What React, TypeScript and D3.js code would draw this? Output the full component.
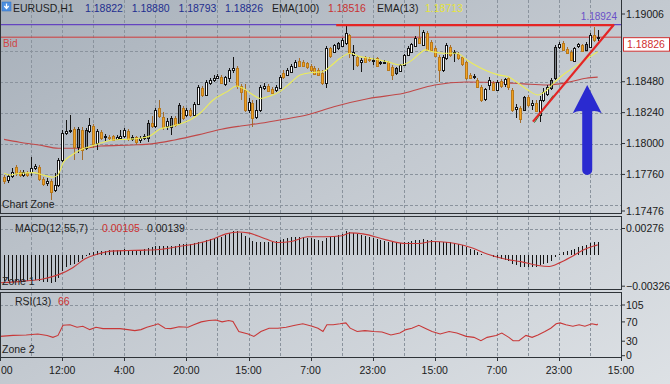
import React from "react";
import * as d3 from "d3";

const W = 670;
const H = 384;

// ---------- candle data (EURUSD H1) ----------
const opens = [1.17740,1.17717,1.17748,1.17818,1.17779,1.17756,1.17772,1.17779,1.17810,1.17818,
1.17725,1.17694,1.17709,1.17639,1.17678,1.17873,1.18082,1.18098,1.18113,1.17973,
1.18105,1.17966,1.18098,1.18136,1.18004,1.18090,1.18051,1.18051,1.18059,1.18035,
1.18043,1.18059,1.18098,1.18035,1.18051,1.18028,1.18043,1.18043,1.18160,1.18136,
1.18276,1.18206,1.18136,1.18129,1.18199,1.18160,1.18276,1.18222,1.18261,1.18222,
1.18307,1.18432,1.18377,1.18470,1.18494,1.18509,1.18517,1.18463,1.18509,1.18571,
1.18587,1.18447,1.18416,1.18261,1.18315,1.18206,1.18261,1.18432,1.18447,1.18424,
1.18416,1.18432,1.18548,1.18533,1.18556,1.18595,1.18641,1.18633,1.18626,1.18602,
1.18587,1.18571,1.18548,1.18470,1.18742,1.18711,1.18742,1.18758,1.18781,1.18843,
1.18688,1.18672,1.18633,1.18672,1.18657,1.18641,1.18665,1.18626,1.18626,1.18633,
1.18595,1.18548,1.18564,1.18610,1.18688,1.18711,1.18758,1.18820,1.18766,1.18859,
1.18789,1.18742,1.18672,1.18571,1.18665,1.18750,1.18703,1.18696,1.18672,1.18633,
1.18533,1.18517,1.18494,1.18439,1.18346,1.18455,1.18470,1.18416,1.18486,1.18463,
1.18509,1.18416,1.18268,1.18276,1.18261,1.18362,1.18299,1.18315,1.18222,1.18338,
1.18385,1.18432,1.18509,1.18750,1.18781,1.18734,1.18711,1.18641,1.18758,1.18766,
1.18727,1.18750,1.18843,1.18822];
const highs = [1.17756,1.17764,1.17810,1.17834,1.17795,1.17795,1.17787,1.17896,1.17841,1.17834,
1.17740,1.17733,1.17725,1.17772,1.17888,1.18105,1.18183,1.18222,1.18129,1.18129,
1.18129,1.18121,1.18199,1.18152,1.18113,1.18105,1.18074,1.18067,1.18067,1.18067,
1.18105,1.18121,1.18113,1.18067,1.18059,1.18059,1.18074,1.18183,1.18214,1.18276,
1.18338,1.18245,1.18199,1.18214,1.18214,1.18315,1.18292,1.18276,1.18276,1.18323,
1.18455,1.18447,1.18494,1.18509,1.18533,1.18540,1.18533,1.18525,1.18587,1.18672,
1.18602,1.18463,1.18463,1.18354,1.18338,1.18338,1.18455,1.18470,1.18463,1.18439,
1.18455,1.18533,1.18571,1.18587,1.18618,1.18649,1.18665,1.18649,1.18633,1.18618,
1.18602,1.18587,1.18571,1.18758,1.18750,1.18773,1.18789,1.18820,1.18913,1.18851,
1.18766,1.18688,1.18665,1.18680,1.18672,1.18665,1.18672,1.18641,1.18649,1.18641,
1.18610,1.18595,1.18618,1.18696,1.18758,1.18781,1.18835,1.18924,1.18882,1.18874,
1.18804,1.18758,1.18688,1.18688,1.18781,1.18766,1.18727,1.18711,1.18680,1.18641,
1.18548,1.18540,1.18509,1.18455,1.18432,1.18517,1.18486,1.18494,1.18501,1.18509,
1.18517,1.18432,1.18307,1.18292,1.18369,1.18377,1.18338,1.18338,1.18369,1.18432,
1.18455,1.18509,1.18766,1.18789,1.18797,1.18750,1.18727,1.18750,1.18781,1.18773,
1.18789,1.18859,1.18905,1.18880];
const lows = [1.17686,1.17694,1.17733,1.17748,1.17740,1.17740,1.17740,1.17748,1.17795,1.17709,
1.17670,1.17670,1.17561,1.17624,1.17663,1.17857,1.18067,1.18082,1.17873,1.17927,
1.17873,1.17950,1.18082,1.17966,1.17950,1.18028,1.18020,1.18028,1.18020,1.18028,
1.18035,1.18043,1.18020,1.18020,1.17989,1.18004,1.18028,1.18012,1.18121,1.18121,
1.18199,1.18105,1.18105,1.18067,1.18129,1.18152,1.18183,1.18206,1.18206,1.18214,
1.18299,1.18362,1.18369,1.18455,1.18478,1.18501,1.18463,1.18447,1.18478,1.18548,
1.18424,1.18338,1.18245,1.18237,1.18129,1.18191,1.18245,1.18416,1.18400,1.18385,
1.18400,1.18424,1.18501,1.18525,1.18548,1.18587,1.18595,1.18595,1.18579,1.18556,
1.18533,1.18525,1.18455,1.18432,1.18665,1.18703,1.18727,1.18750,1.18766,1.18665,
1.18571,1.18595,1.18556,1.18626,1.18633,1.18610,1.18595,1.18610,1.18618,1.18564,
1.18494,1.18533,1.18556,1.18602,1.18680,1.18703,1.18750,1.18773,1.18758,1.18719,
1.18711,1.18672,1.18478,1.18556,1.18649,1.18672,1.18633,1.18649,1.18602,1.18494,
1.18501,1.18501,1.18432,1.18323,1.18330,1.18416,1.18408,1.18408,1.18432,1.18439,
1.18416,1.18245,1.18199,1.18160,1.18261,1.18284,1.18261,1.18245,1.18167,1.18323,
1.18369,1.18416,1.18494,1.18734,1.18719,1.18696,1.18641,1.18633,1.18742,1.18711,
1.18719,1.18742,1.18789,1.18793];
const closes = [1.17709,1.17748,1.17779,1.17772,1.17756,1.17779,1.17756,1.17810,1.17826,1.17725,
1.17686,1.17709,1.17624,1.17678,1.17873,1.18082,1.18098,1.18105,1.17973,1.18113,
1.17950,1.18105,1.18144,1.17997,1.18098,1.18043,1.18059,1.18043,1.18028,1.18051,
1.18059,1.18105,1.18035,1.18051,1.18012,1.18043,1.18059,1.18160,1.18136,1.18261,
1.18214,1.18129,1.18175,1.18199,1.18144,1.18299,1.18199,1.18261,1.18222,1.18307,
1.18439,1.18377,1.18478,1.18494,1.18509,1.18525,1.18470,1.18517,1.18571,1.18587,
1.18447,1.18400,1.18261,1.18323,1.18199,1.18261,1.18439,1.18447,1.18408,1.18393,
1.18439,1.18517,1.18517,1.18571,1.18602,1.18633,1.18602,1.18602,1.18595,1.18571,
1.18540,1.18533,1.18470,1.18742,1.18680,1.18766,1.18781,1.18804,1.18859,1.18703,
1.18711,1.18610,1.18649,1.18633,1.18649,1.18649,1.18602,1.18633,1.18633,1.18571,
1.18533,1.18587,1.18610,1.18688,1.18742,1.18773,1.18820,1.18781,1.18866,1.18727,
1.18727,1.18680,1.18571,1.18672,1.18766,1.18688,1.18711,1.18665,1.18618,1.18509,
1.18509,1.18525,1.18439,1.18338,1.18424,1.18494,1.18416,1.18478,1.18447,1.18501,
1.18439,1.18261,1.18284,1.18191,1.18362,1.18299,1.18315,1.18253,1.18338,1.18400,
1.18439,1.18494,1.18750,1.18773,1.18727,1.18703,1.18649,1.18742,1.18773,1.18719,
1.18773,1.18843,1.18804,1.18826];
// bullish candles drawn with a grey body
const greyBull = [19, 21, 33, 37, 43, 45, 86, 101, 134, 141, 142, 150];

// ---------- indicator data ----------
const ema100: [number, number][] = [[0,1.18032],[4,1.18010],[9,1.17989],[14,1.17963],[20,1.17963],[25,1.17981],
[33,1.17989],[38,1.17997],[44,1.18028],[50,1.18067],[56,1.18111],[61,1.18136],[66,1.18157],[72,1.18188],
[78,1.18222],[85,1.18286],[94,1.18350],[103,1.18390],[111,1.18455],[119,1.18478],[128,1.18474],[134,1.18463],
[140,1.18455],[145,1.18473],[150,1.18507],[153,1.18516]];
const ema13: [number, number][] = [[0,1.17769],[1.5,1.17756],[4.1,1.17769],[7.5,1.17774],[10,1.17756],[12.6,1.17738],
[13.9,1.17756],[15.2,1.17849],[17.5,1.17911],[19.6,1.17950],[22.1,1.17976],[24.7,1.18002],[28.1,1.18028],
[31.7,1.18033],[35,1.18041],[37.6,1.18059],[40.2,1.18113],[42.8,1.18131],[45.3,1.18152],[47.9,1.18183],
[50.5,1.18235],[53.9,1.18338],[57.5,1.18403],[60,1.18447],[61.6,1.18429],[64.2,1.18377],[66,1.18350],
[68.5,1.18369],[71.1,1.18403],[73.7,1.18468],[76.3,1.18533],[79.4,1.18552],[82.2,1.18558],[84,1.18597],
[86.6,1.18662],[89.2,1.18701],[91.7,1.18675],[94.3,1.18662],[98.7,1.18636],[102,1.18610],[104.6,1.18636],
[107.2,1.18701],[108.5,1.18727],[110.5,1.18713],[113.1,1.18701],[116.7,1.18701],[119.3,1.18649],[121.4,1.18610],
[123.9,1.18571],[127.3,1.18533],[129.9,1.18519],[132.5,1.18468],[135,1.18416],[137.6,1.18377],[139.4,1.18403],
[142,1.18480],[144.6,1.18546],[147.2,1.18597],[149.7,1.18649],[153,1.18713]];

const macdHist = [-0.0027,-0.0027,-0.0028,-0.0027,-0.0027,-0.0028,-0.0027,-0.0026,-0.0026,-0.0027,
-0.0028,-0.0028,-0.0029,-0.0028,-0.0024,-0.0017,-0.0013,-0.0011,-0.0009,-0.0007,
-0.0004,-0.0001,0.0002,0.0003,0.0004,0.0004,0.0004,0.0005,0.0005,0.0005,
0.0005,0.0006,0.0005,0.0005,0.0005,0.0005,0.0006,0.0007,0.0008,0.0009,
0.0009,0.0009,0.0009,0.0009,0.0009,0.0011,0.0011,0.0011,0.0011,0.0012,
0.0014,0.0014,0.0016,0.0017,0.0018,0.0019,0.0019,0.0021,0.0023,0.0025,
0.0025,0.0023,0.0020,0.0018,0.0015,0.0013,0.0014,0.0014,0.0014,0.0014,
0.0015,0.0016,0.0017,0.0018,0.0019,0.0019,0.0019,0.0019,0.0018,0.0018,
0.0017,0.0016,0.0015,0.0018,0.0019,0.0020,0.0021,0.0022,0.0025,0.0024,
0.0023,0.0022,0.0021,0.0020,0.0019,0.0018,0.0017,0.0016,0.0015,0.0014,
0.0013,0.0012,0.0012,0.0013,0.0014,0.0015,0.0016,0.0016,0.0017,0.0016,
0.0016,0.0015,0.0013,0.0013,0.0014,0.0013,0.0012,0.0011,0.0010,0.0008,
0.0006,0.0005,0.0003,0.0001,0.0000,0.0000,-0.0002,-0.0003,-0.0004,-0.0005,
-0.0006,-0.0009,-0.0011,-0.0013,-0.0013,-0.0013,-0.0013,-0.0013,-0.0011,-0.0009,
-0.0008,-0.0006,-0.0002,0.0001,0.0003,0.0004,0.0005,0.0006,0.0008,0.0009,
0.0010,0.0012,0.0013,0.00139];
const macdSignal: [number, number][] = [[-1,-0.0029],[5.7,-0.0027],[10,-0.0025],[14.4,-0.0020],[17.8,-0.0013],
[20.9,-0.0004],[24.2,0.0001],[27.6,0.0004],[31.9,0.00046],[36.3,0.0005],[40.7,0.0006],[45.3,0.0009],
[49.7,0.0012],[54.1,0.0017],[57.2,0.0022],[60.6,0.0024],[62.9,0.0023],[67.3,0.0017],[70.6,0.0013],
[74,0.0014],[78.3,0.0019],[82.7,0.0019],[87.1,0.0020],[89.2,0.0023],[92.5,0.0022],[98.2,0.0016],
[103.6,0.0012],[107,0.0012],[110.3,0.0014],[114.7,0.0013],[120.1,0.0008],[124.5,0.0001],[128.8,-0.0004],
[133.2,-0.0007],[137.6,-0.0011],[140.5,-0.0012],[143.3,-0.0008],[146.6,-0.0001],[149.7,0.0006],
[152.6,0.0010],[153,0.00105]];

const rsi: [number, number][] = [[-1,40],[2.3,42],[5.7,43],[8.7,45],[11.1,42],[12.6,38],[13.9,42],[15.2,63],[17,64],
[18.8,59],[20.3,61],[22.1,54],[23.7,59],[25.5,56],[27.6,56],[29.9,56],[31.9,54],[33.7,52],[35.3,54],[36.8,59],
[38.6,63],[39.7,66],[41.5,57],[43,56],[45.1,60],[47.4,59],[48.9,64],[50.8,70],[52.8,73],[54.6,74],[56.2,70],
[57.9,73],[59,71],[60.5,50],[62.9,45],[64.4,40],[66.2,50],[68.3,57],[70.6,57],[72.7,59],[75,63],[77,66],
[79.4,61],[80.9,57],[82.2,50],[83.2,64],[84.8,64],[86.6,66],[88.1,68],[89.2,57],[91,50],[93,52],[95.3,50],
[97.4,49],[99.7,43],[102,47],[103.6,54],[105.1,57],[106.9,63],[108.5,57],[110.3,50],[112.4,45],[114.7,50],
[116.7,47],[119.1,40],[121.1,38],[122.9,31],[124.5,38],[126.8,42],[128.3,47],[130.1,38],[131.2,31],[132.7,31],
[134.5,42],[136.1,38],[137.6,43],[139.4,50],[140.9,57],[142.3,66],[143.3,68],[144.8,64],[146.6,61],[148.2,64],
[149.7,61],[151.5,66],[152.8,64],[153,66]];

// ---------- axes ----------
const timeIdx = [-1, 15, 31, 47, 63, 79, 95, 111, 127, 143, 159];
const timeLabels = ["20:00", "12:00", "4:00", "20:00", "15:00", "7:00", "23:00", "15:00", "7:00", "23:00", "15:00"];
const priceLabels = [1.19006, 1.18480, 1.18240, 1.18000, 1.17760, 1.17476];
const priceGrid = [1.18720, 1.18480, 1.18240, 1.18000, 1.17760, 1.17520];
const macdLabels = [0.00276, -0.00326];
const rsiLabels = [105, 70, 30, 0];

// header / annotations
const headerOHLC = [1.18822, 1.18880, 1.18793, 1.18826];
const ema100Last = 1.18516;
const ema13Last = 1.18713;
const bidPrice = 1.18826;
const dayHigh = 1.18924;
const macdLast = [0.00105, 0.00139];
const rsiLast = 66;
const resistanceFrom = 85.6;
const resistanceTo = 157.2;
const trendStart: [number, number] = [136.3, 1.18170];
const trendEnd: [number, number] = [157.2, 1.18924];
const arrowTip: [number, number] = [150.3, 1.18455];
const arrowHeadBase = 1.18235;
const arrowTail = 1.17795;

const FONT = "'Liberation Sans', Arial, sans-serif";

export default function App() {
  const R = 621;
  const x = d3.scaleLinear().domain([0, 153]).range([4.06, 597.7]);
  const yP = d3.scaleLinear().domain([1.17476, 1.19006]).range([211, 14]);
  const yM = d3.scaleLinear().domain([-0.00326, 0.00276]).range([286.2, 228.5]);
  const yR = d3.scaleLinear().domain([0, 105]).range([355.7, 305]);

  const priceLine = d3.line<[number, number]>().x((d) => x(d[0])).y((d) => yP(d[1])).curve(d3.curveMonotoneX);
  const sigLine = d3.line<[number, number]>().x((d) => x(d[0])).y((d) => yM(d[1])).curve(d3.curveMonotoneX);
  const rsiLine = d3.line<[number, number]>().x((d) => x(d[0])).y((d) => yR(d[1]));

  const vGrid = d3.range(7, 159, 8);
  const panels = [
    { top: 0, bottom: 213 },
    { top: 216.5, bottom: 289.5 },
    { top: 292.5, bottom: 357.5 },
  ];

  const px = (i: number) => Math.round(x(i));
  const fmt5 = d3.format(".5f");

  const tipX = x(arrowTip[0]);
  const tipY = yP(arrowTip[1]);
  const hb = yP(arrowHeadBase);
  const tail = yP(arrowTail);
  const arrowPath = `M${tipX},${tipY} L${tipX + 14.5},${hb} Q${tipX + 9},${hb - 3} ${tipX + 5},${hb - 2} L${tipX + 5},${tail} A5,5 0 0 1 ${tipX - 5},${tail} L${tipX - 5},${hb - 2} Q${tipX - 9},${hb - 3} ${tipX - 14.5},${hb} Z`;

  return (
    <svg width={W} height={H} style={{ position: "absolute", left: 0, top: 0 }} fontFamily={FONT}>
      <defs>
        <linearGradient id="bg" x1="0" y1="0" x2="1" y2="1">
          <stop offset="0" stopColor="#a7b0ba" />
          <stop offset="0.5" stopColor="#c3c9d0" />
          <stop offset="1" stopColor="#dde1e5" />
        </linearGradient>
        <clipPath id="mainClip"><rect x={0} y={0} width={R} height={213} /></clipPath>
        <clipPath id="macdClip"><rect x={0} y={216.5} width={R} height={73} /></clipPath>
        <clipPath id="rsiClip"><rect x={0} y={292.5} width={R} height={65} /></clipPath>
      </defs>
      <rect x={0} y={0} width={W} height={H} fill="url(#bg)" />

      {/* grids */}
      <g stroke="#8a939d" strokeDasharray="3,2" strokeWidth={1} shapeRendering="crispEdges">
        {panels.map((p, k) =>
          vGrid.map((g) => <line key={`v${k}-${g}`} x1={px(g) + 0.5} x2={px(g) + 0.5} y1={p.top} y2={p.bottom} />)
        )}
        {priceGrid.map((v) => <line key={`h${v}`} x1={0} x2={R} y1={Math.round(yP(v)) + 0.5} y2={Math.round(yP(v)) + 0.5} />)}
        <line x1={0} x2={R} y1={Math.round(yM(0.00276)) + 0.5} y2={Math.round(yM(0.00276)) + 0.5} />
        <line x1={0} x2={R} y1={Math.round(yR(105)) + 0.5} y2={Math.round(yR(105)) + 0.5} />
      </g>

      {/* main chart */}
      <g clipPath="url(#mainClip)">
        <line x1={0} x2={R} y1={yP(dayHigh)} y2={yP(dayHigh)} stroke="#6444c0" strokeWidth={1.3} />
        <line x1={0} x2={R} y1={yP(bidPrice)} y2={yP(bidPrice)} stroke="#d03a3a" strokeWidth={1} />
        <path d={priceLine(ema100) || ""} fill="none" stroke="#c04848" strokeWidth={1.1} />
        {closes.map((c, i) => {
          const o = opens[i];
          const bull = c >= o;
          const cx = px(i);
          const top = Math.round(yP(Math.max(o, c)));
          const bot = Math.round(yP(Math.min(o, c)));
          const fill = bull ? (greyBull.includes(i) ? "#7c838b" : "#ffffff") : "#f0a222";
          const stroke = bull ? "#151515" : "#b9791c";
          const wick = bull ? "#151515" : "#a46c2c";
          return (
            <g key={`c${i}`} shapeRendering="crispEdges">
              <line x1={cx + 0.5} x2={cx + 0.5} y1={Math.round(yP(highs[i]))} y2={Math.round(yP(lows[i]))} stroke={wick} />
              <rect x={cx - 0.5} y={top + 0.5} width={2} height={Math.max(1, bot - top)} fill={fill} stroke={stroke} />
            </g>
          );
        })}
        <path d={priceLine(ema13) || ""} fill="none" stroke="#ecec5a" strokeWidth={1.1} />
        <line x1={x(resistanceFrom)} x2={x(resistanceTo)} y1={yP(dayHigh) + 0.5} y2={yP(dayHigh) + 0.5} stroke="#e42525" strokeWidth={2.2} />
        <line x1={x(trendStart[0]) + 1.5} y1={yP(trendStart[1]) + 1} x2={x(141.5)} y2={yP(1.18385) + 1.5} stroke="#2f7a30" strokeWidth={1} />
        <line x1={x(trendStart[0])} y1={yP(trendStart[1])} x2={x(trendEnd[0])} y2={yP(trendEnd[1])} stroke="#e42525" strokeWidth={2.2} />
        <path d={arrowPath} fill="#2a2ad0" />
        <text x={617} y={yP(dayHigh) - 5} textAnchor="end" fontSize={10} fill="#6a50c8">{fmt5(dayHigh)}</text>
        <text x={3} y={47} fontSize={10} fill="#d04545">Bid</text>
        <text x={2} y={208} fontSize={10.5} fill="#222">Chart Zone</text>
        {/* header */}
        <rect x={2} y={2} width={9} height={9} fill="#4d8fe0" stroke="#2f6fc0" strokeWidth={0.5} />
        <path d="M6.5,3.5 L6.5,8 M4.3,6 L6.5,8.5 L8.7,6" stroke="#fff" strokeWidth={1.3} fill="none" />
        <text y={12} fontSize={10.5}>
          <tspan x={13} fill="#1e1e1e">EURUSD,H1</tspan>
          {headerOHLC.map((v, k) => (
            <tspan key={k} x={85 + k * 46.7} fill="#1f2f8f">{fmt5(v)}</tspan>
          ))}
          <tspan x={272} fill="#1e1e1e">EMA(100)</tspan>
          <tspan x={328} fill="#c83232">{fmt5(ema100Last)}</tspan>
          <tspan x={377} fill="#1e1e1e">EMA(13)</tspan>
          <tspan x={425} fill="#e6e43c">{fmt5(ema13Last)}</tspan>
        </text>
      </g>

      {/* MACD */}
      <g clipPath="url(#macdClip)">
        <g stroke="#141414" shapeRendering="crispEdges">
          {macdHist.map((v, i) =>
            v === 0 ? null : (
              <line key={`m${i}`} x1={px(i) + 0.5} x2={px(i) + 0.5} y1={Math.round(yM(0))} y2={Math.round(yM(v))} />
            )
          )}
        </g>
        <path d={sigLine(macdSignal) || ""} fill="none" stroke="#c83838" strokeWidth={1.1} />
        <text y={232} fontSize={10.5}>
          <tspan x={15} fill="#1e1e1e">MACD(12,55,7)</tspan>
          <tspan x={102} fill="#cc3030">{fmt5(macdLast[0])}</tspan>
          <tspan x={147} fill="#1e1e1e">{fmt5(macdLast[1])}</tspan>
        </text>
        <text x={2} y={285} fontSize={10.5} fill="#222">Zone 1</text>
      </g>

      {/* RSI */}
      <g clipPath="url(#rsiClip)">
        <path d={rsiLine(rsi) || ""} fill="none" stroke="#c83838" strokeWidth={1.1} />
        <text y={305} fontSize={10.5}>
          <tspan x={15} fill="#1e1e1e">RSI(13)</tspan>
          <tspan x={58} fill="#cc3030">{rsiLast}</tspan>
        </text>
        <text x={2} y={353} fontSize={10.5} fill="#222">Zone 2</text>
      </g>

      {/* panel borders */}
      <g fill="none" stroke="#2e3338" strokeWidth={1} shapeRendering="crispEdges">
        <path d={`M0.5,0 V213.5 H${R + 0.5} V0`} />
        <rect x={0.5} y={216.5} width={R} height={73} />
        <rect x={0.5} y={292.5} width={R} height={65} />
      </g>

      {/* right axis */}
      <g fontSize={10.5} fill="#1a1a1a">
        {priceLabels.map((v) => (
          <g key={`pl${v}`}>
            <line x1={R} x2={R + 4} y1={yP(v)} y2={yP(v)} stroke="#2e3338" />
            <text x={R + 5} y={yP(v)} dy="0.35em">{fmt5(v)}</text>
          </g>
        ))}
        {macdLabels.map((v) => (
          <g key={`ml${v}`}>
            <line x1={R} x2={R + 4} y1={yM(v)} y2={yM(v)} stroke="#2e3338" />
            <text x={R + 5} y={yM(v)} dy="0.35em">{fmt5(v)}</text>
          </g>
        ))}
        {rsiLabels.map((v) => (
          <g key={`rl${v}`}>
            <line x1={R} x2={R + 4} y1={yR(v)} y2={yR(v)} stroke="#2e3338" />
            <text x={R + 5} y={yR(v)} dy="0.35em">{v}</text>
          </g>
        ))}
        <rect x={R + 2.5} y={yP(bidPrice) + 0.5} width={46} height={13.5} fill="#ffffff" stroke="#d03030" />
        <text x={R + 6} y={yP(bidPrice) + 7.5} dy="0.35em" fill="#d03030">{fmt5(bidPrice)}</text>
      </g>

      {/* time axis */}
      <g fontSize={10.5} fill="#1a1a1a">
        {timeIdx.map((t, k) => {
          const atEdge = x(t) < 15;
          return (
            <g key={`t${k}`}>
              <line x1={px(t) + 0.5} x2={px(t) + 0.5} y1={357.5} y2={361} stroke="#2e3338" />
              {atEdge ? (
                <text x={1} y={374} textAnchor="start">{timeLabels[k].slice(-2)}</text>
              ) : (
                <text x={x(t)} y={374} textAnchor="middle">{timeLabels[k]}</text>
              )}
            </g>
          );
        })}
      </g>
    </svg>
  );
}
